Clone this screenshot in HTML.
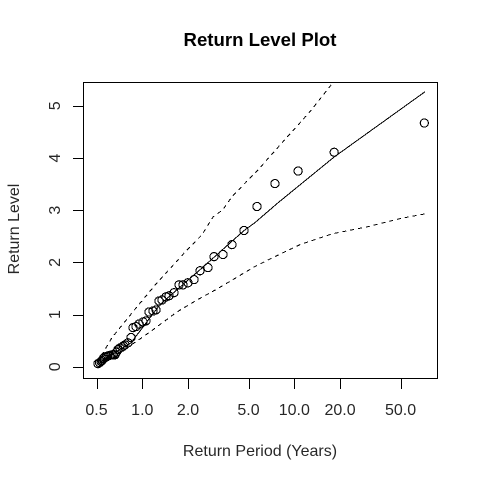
<!DOCTYPE html>
<html>
<head>
<meta charset="utf-8">
<title>Return Level Plot</title>
<style>
html,body{margin:0;padding:0;background:#fff;}
svg{display:block;}
text{font-family:"Liberation Sans",Arial,sans-serif;fill:#000;}
</style>
</head>
<body>
<svg id="chart" xmlns="http://www.w3.org/2000/svg" width="480" height="480" viewBox="0 0 480 480">
  <rect x="0" y="0" width="480" height="480" fill="#fff"/>
  <text x="260" y="46" text-anchor="middle" font-size="18.6" font-weight="bold">Return Level Plot</text>
  <text x="260" y="456" text-anchor="middle" font-size="16" fill-opacity="0.85">Return Period (Years)</text>
  <text transform="translate(19,229) rotate(-90)" text-anchor="middle" font-size="16" fill-opacity="0.85">Return Level</text>
  <g id="marks"></g>
  <rect x="83.5" y="82.5" width="354" height="296" fill="none" stroke="#000" stroke-width="1" shape-rendering="crispEdges"/>
  <g id="axes"></g>
</svg>
<script>
var xTicks = [0.5, 1, 2, 5, 10, 20, 50];
var xTickLabels = ["0.5", "1.0", "2.0", "5.0", "10.0", "20.0", "50.0"];
var yTicks = [0, 1, 2, 3, 4, 5];
var yTickLabels = ["0", "1", "2", "3", "4", "5"];

var pointPeriods = [0.511,0.523,0.535,0.543,0.551,0.559,0.568,0.581,0.595,0.613,0.632,0.646,0.661,0.676,0.692,0.713,0.735,0.752,0.770,0.805,0.843,0.869,0.909,0.951,1.011,1.058,1.107,1.176,1.231,1.288,1.348,1.432,1.499,1.617,1.744,1.853,1.998,2.189,2.397,2.705,2.963,3.395,3.891,4.668,5.683,7.46,10.6,18.3,71.7];
var pointLevels = [0.06,0.08,0.10,0.12,0.15,0.17,0.19,0.20,0.21,0.22,0.23,0.23,0.23,0.28,0.33,0.36,0.38,0.40,0.42,0.46,0.56,0.75,0.77,0.82,0.86,0.88,1.05,1.07,1.09,1.26,1.28,1.34,1.36,1.42,1.57,1.57,1.61,1.67,1.84,1.90,2.11,2.15,2.34,2.61,3.07,3.51,3.75,4.11,4.67];

var fitPeriods = [0.511,0.551,0.843,1.306,2.397,4.668,5.5,7.8,18.3,72.5];
var fitLevels = [0.05,0.13,0.46,1.19,1.86,2.61,2.76,3.14,4.02,5.27];

var upperPeriods = [0.511,0.568,0.632,0.923,1.25,1.97,2.47,2.92,3.39,3.89,5.76,8.41,12.7,17.7];
var upperLevels = [0.08,0.33,0.56,1.15,1.61,2.24,2.53,2.87,3.01,3.26,3.77,4.31,4.89,5.42];

var lowerPeriods = [0.511,0.613,0.79,0.995,1.176,1.69,2.29,3.10,5.5,7.2,10.9,17.9,30,49.8,72.5];
var lowerLevels = [0.04,0.13,0.36,0.56,0.71,1.05,1.28,1.49,1.92,2.09,2.34,2.55,2.68,2.84,2.93];

var NS = "http://www.w3.org/2000/svg";
function xScale(t){ return 142.3 + 152 * Math.log10(t); }
function yScale(v){ return 366.8 - 52.2 * v; }
function pathFor(ts, vs){
  return ts.map(function(t, i){
    return (i ? "L" : "M") + xScale(t).toFixed(2) + " " + yScale(vs[i]).toFixed(2);
  }).join(" ");
}
function line(parent, x1, y1, x2, y2){
  var el = document.createElementNS(NS, "line");
  el.setAttribute("x1", x1);
  el.setAttribute("y1", y1);
  el.setAttribute("x2", x2);
  el.setAttribute("y2", y2);
  el.setAttribute("stroke", "#000");
  el.setAttribute("stroke-width", "1");
  el.setAttribute("shape-rendering", "crispEdges");
  parent.appendChild(el);
  return el;
}
function label(parent, str, x, y, rotate){
  var el = document.createElementNS(NS, "text");
  el.textContent = str;
  el.setAttribute("text-anchor", "middle");
  el.setAttribute("font-size", "16");
  el.setAttribute("fill-opacity", "0.85");
  if (rotate) {
    el.setAttribute("transform", "translate(" + x + "," + y + ") rotate(-90)");
  } else {
    el.setAttribute("x", x);
    el.setAttribute("y", y);
  }
  parent.appendChild(el);
  return el;
}

var marks = document.getElementById("marks");
var axes = document.getElementById("axes");

var fitPath = document.createElementNS(NS, "path");
fitPath.setAttribute("d", pathFor(fitPeriods, fitLevels));
fitPath.setAttribute("fill", "none");
fitPath.setAttribute("stroke", "#000");
fitPath.setAttribute("stroke-width", "1");
fitPath.setAttribute("shape-rendering", "crispEdges");


marks.appendChild(fitPath);

var upperPath = document.createElementNS(NS, "path");
upperPath.setAttribute("d", pathFor(upperPeriods, upperLevels));
upperPath.setAttribute("fill", "none");
upperPath.setAttribute("stroke", "#000");
upperPath.setAttribute("stroke-width", "1");
upperPath.setAttribute("stroke-dasharray", "4 4");
upperPath.setAttribute("shape-rendering", "crispEdges");


marks.appendChild(upperPath);

var lowerPath = document.createElementNS(NS, "path");
lowerPath.setAttribute("d", pathFor(lowerPeriods, lowerLevels));
lowerPath.setAttribute("fill", "none");
lowerPath.setAttribute("stroke", "#000");
lowerPath.setAttribute("stroke-width", "1");
lowerPath.setAttribute("stroke-dasharray", "4 4");
lowerPath.setAttribute("shape-rendering", "crispEdges");


marks.appendChild(lowerPath);

pointPeriods.forEach(function(t, i){
  var c = document.createElementNS(NS, "circle");
  c.setAttribute("cx", xScale(t).toFixed(2));
  c.setAttribute("cy", yScale(pointLevels[i]).toFixed(2));
  c.setAttribute("r", "4.1");
  c.setAttribute("fill", "none");
  c.setAttribute("stroke", "#000");
  c.setAttribute("stroke-width", "1.1");
  c.setAttribute("shape-rendering", "crispEdges");
  
  
  marks.appendChild(c);
});

xTicks.forEach(function(t, i){
  var x = Math.round(xScale(t)) + 0.5;
  var tick = line(axes, x, 378.5, x, 389);
  
  
  var lab = label(axes, xTickLabels[i], xScale(t), 415, false);
  
  
});

yTicks.forEach(function(v, i){
  var y = Math.round(yScale(v)) + 0.5;
  var tick = line(axes, 73, y, 83.5, y);
  
  
  var lab = label(axes, yTickLabels[i], 60, yScale(v), true);
  
  
});
</script>
</body>
</html>
